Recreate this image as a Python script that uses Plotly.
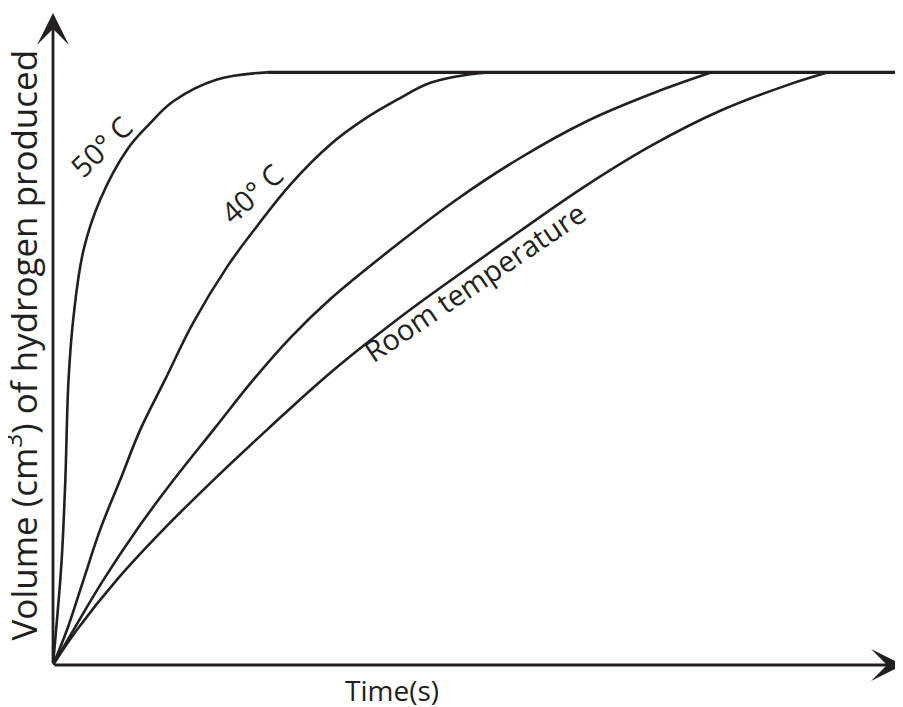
import plotly.graph_objects as go

# ---- data (arbitrary units 0-100) ----
t_50 = [0, 0.86, 1.09, 1.45, 1.83, 2.42, 3.6, 5.56, 8.7, 11.44, 14.2, 19.3, 25.2]
v_50 = [0, 13.1, 17.7, 28.4, 43.8, 53.5, 63.7, 71.4, 79.0, 83.1, 86.5, 89.8, 90.9]

t_40 = [0, 1.65, 3.6, 5.56, 7.91, 10.27, 13.2, 16.5, 20.5, 24.0, 28.0, 32.6, 36.5, 40.5, 44.4, 49.1, 51.4]
v_40 = [0, 5.4, 13.1, 20.8, 28.4, 36.1, 43.8, 52.5, 61.1, 67.3, 73.8, 79.8, 83.6, 86.7, 89.3, 90.6, 90.9]

t_mid = [0, 2.42, 5.95, 9.88, 14.2, 18.9, 23.6, 28.0, 32.6, 40.5, 47.5, 55.0, 62.8, 70.6, 77.5]
v_mid = [0, 5.4, 13.1, 20.8, 28.4, 36.1, 43.8, 50.3, 56.1, 64.5, 71.4, 77.8, 83.4, 87.7, 90.9]

t_room = [0, 2.82, 7.53, 13.0, 18.9, 25.2, 32.6, 40.5, 48.3, 55.0, 62.8, 70.6, 78.5, 86.3, 91.2]
v_room = [0, 5.4, 13.1, 20.8, 28.4, 36.1, 44.8, 53.0, 60.4, 66.6, 73.6, 79.8, 85.0, 88.9, 90.9]

final_volume = 90.9
plateau_t = [25.2, 99.4]
plateau_v = [final_volume, final_volume]

labels = ["50° C", "40° C", "Room temperature"]
label_pos = [(5.56, 79.6, -44), (23.3, 72.3, -42), (49.6, 58.8, -34)]

INK = "#231f20"
FONT = "Open Sans"

fig = go.Figure()
for t, v in [(t_50, v_50), (t_40, v_40), (t_mid, v_mid), (t_room, v_room)]:
    fig.add_trace(go.Scatter(x=t, y=v, mode="lines",
                             line=dict(color=INK, width=2.6, shape="spline", smoothing=1.1),
                             hoverinfo="skip", showlegend=False))
fig.add_trace(go.Scatter(x=plateau_t, y=plateau_v, mode="lines",
                         line=dict(color=INK, width=3.2), hoverinfo="skip", showlegend=False))

ann = []
for text, (x, y, ang) in zip(labels, label_pos):
    ann.append(dict(x=x, y=y, xref="x", yref="y", text=text, showarrow=False,
                    textangle=ang, xanchor="center", yanchor="middle",
                    font=dict(family=FONT, size=29, color=INK)))

# axis arrows
ann.append(dict(x=100, y=0, ax=0, ay=0, xref="x", yref="y", axref="x", ayref="y",
                text="", showarrow=True, arrowhead=3, arrowwidth=2.8, arrowsize=1.9,
                arrowcolor=INK, standoff=0))
ann.append(dict(x=0, y=100, ax=0, ay=0, xref="x", yref="y", axref="x", ayref="y",
                text="", showarrow=True, arrowhead=3, arrowwidth=2.8, arrowsize=1.9,
                arrowcolor=INK, standoff=0))

# axis titles
ann.append(dict(x=39.9, y=0, xref="x", yref="paper", yshift=-25, text="Time(s)",
                showarrow=False, xanchor="center", yanchor="middle",
                font=dict(family=FONT, size=28, color=INK)))
ann.append(dict(x=0, y=0.49, xref="paper", yref="paper", xshift=-31,
                text="Volume (cm<sup>3</sup>) of hydrogen produced", textangle=-90,
                showarrow=False, xanchor="center", yanchor="middle",
                font=dict(family=FONT, size=35, color=INK)))

# page body has an 8px margin: the figure is sized/offset to put the plot area at 53..903 x 13..665
fig.update_layout(
    width=895, height=699,
    margin=dict(l=45, r=0, t=5, b=42),
    paper_bgcolor="white", plot_bgcolor="white",
    xaxis=dict(range=[0, 100], showgrid=False, zeroline=False, showticklabels=False,
               showline=False, ticks="", fixedrange=True),
    yaxis=dict(range=[0, 100], showgrid=False, zeroline=False, showticklabels=False,
               showline=False, ticks="", fixedrange=True),
    annotations=ann,
    showlegend=False,
)
fig.write_html("out.html")
